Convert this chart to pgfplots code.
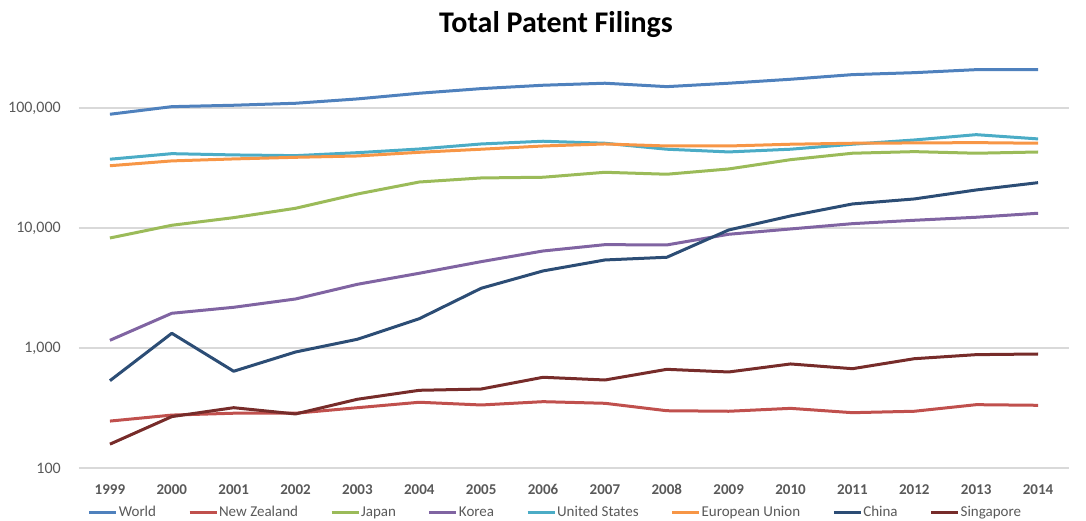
\documentclass[border=0pt]{standalone}
\usepackage{pgfplots}
\pgfplotsset{compat=1.18}
\usepackage{fontspec}
\setmainfont{Carlito}
\definecolor{cWorld}{HTML}{4F81BD}
\definecolor{cNZ}{HTML}{C0504D}
\definecolor{cJapan}{HTML}{9BBB59}
\definecolor{cKorea}{HTML}{8064A2}
\definecolor{cUS}{HTML}{4BACC6}
\definecolor{cEU}{HTML}{F79646}
\definecolor{cChina}{HTML}{2C4D75}
\definecolor{cSing}{HTML}{772C2A}
\definecolor{tickgray}{HTML}{595959}
\definecolor{gridgray}{HTML}{D9D9D9}
\begin{document}
\begin{tikzpicture}[x=1pt,y=1pt]
\useasboundingbox (-79,-53) rectangle (1007,468);
\begin{axis}[
  at={(0,0)}, anchor=south west,
  scale only axis, width=990pt, height=418pt,
  ymode=log, log basis y=10,
  xmin=1998.5, xmax=2014.5, ymin=100, ymax=304000,
  axis line style={draw=none},
  tick style={draw=none},
  ymajorgrids, yminorgrids=false,
  grid style={color=gridgray, line width=1.2pt},
  minor y tick num=0,
  ytick={100,1000,10000,100000},
  yticklabels={100,{1,000},{10,000},{100,000}},
  xtick={1999,2000,2001,2002,2003,2004,2005,2006,2007,2008,2009,2010,2011,2012,2013,2014},
  xticklabels={1999,2000,2001,2002,2003,2004,2005,2006,2007,2008,2009,2010,2011,2012,2013,2014},
  /pgf/number format/assume math mode=true,
  yticklabel style={font=\fontsize{16}{18}\selectfont, text=tickgray, inner sep=0pt, anchor=east, xshift=-18pt},
  xticklabel style={font=\bfseries\fontsize{15}{18}\selectfont, text=tickgray, inner sep=0pt, anchor=north, yshift=-16pt},
  every axis plot/.append style={line width=3pt, line join=round},
  legend columns=8,
  legend style={at={(axis description cs:0.4808,-0.1053)}, anchor=center, draw=none, fill=none,
    font=\fontsize{15}{18}\selectfont, text=tickgray,
    nodes={inner sep=1pt},
    /tikz/every even column/.append style={column sep=31pt}},
  legend image code/.code={\draw[#1, line width=3pt] (0pt,0pt) -- (27pt,0pt);},
]
\addplot[cWorld] coordinates {(1999,88600) (2000,102500) (2001,105300) (2002,109400) (2003,118900) (2004,132600) (2005,144900) (2006,154600) (2007,160700) (2008,150500) (2009,160700) (2010,173400) (2011,189500) (2012,196800) (2013,208500) (2014,208500)};
\addlegendentry{World}
\addplot[cNZ] coordinates {(1999,246) (2000,276) (2001,286) (2002,286) (2003,318) (2004,353) (2005,335) (2006,357) (2007,346) (2008,300) (2009,297) (2010,314) (2011,289) (2012,297) (2013,337) (2014,333)};
\addlegendentry{New Zealand}
\addplot[cJapan] coordinates {(1999,8250) (2000,10530) (2001,12190) (2002,14590) (2003,19190) (2004,24150) (2005,26100) (2006,26460) (2007,29100) (2008,28030) (2009,31020) (2010,37070) (2011,41940) (2012,43250) (2013,41940) (2014,42950)};
\addlegendentry{Japan}
\addplot[cKorea] coordinates {(1999,1159) (2000,1946) (2001,2183) (2002,2560) (2003,3393) (2004,4194) (2005,5240) (2006,6430) (2007,7260) (2008,7220) (2009,8860) (2010,9810) (2011,10860) (2012,11590) (2013,12280) (2014,13260)};
\addlegendentry{Korea}
\addplot[cUS] coordinates {(1999,37400) (2000,41600) (2001,40600) (2002,40050) (2003,42400) (2004,45500) (2005,50100) (2006,52800) (2007,50800) (2008,45300) (2009,43000) (2010,45300) (2011,49850) (2012,54100) (2013,59900) (2014,55200)};
\addlegendentry{United States}
\addplot[cEU] coordinates {(1999,33000) (2000,36200) (2001,37600) (2002,38800) (2003,39800) (2004,42700) (2005,45300) (2006,48200) (2007,50100) (2008,48200) (2009,48200) (2010,49850) (2011,50800) (2012,51100) (2013,51400) (2014,50800)};
\addlegendentry{European Union}
\addplot[cChina] coordinates {(1999,534) (2000,1326) (2001,640) (2002,926) (2003,1182) (2004,1754) (2005,3145) (2006,4385) (2007,5412) (2008,5700) (2009,9620) (2010,12590) (2011,15850) (2012,17450) (2013,20730) (2014,23850)};
\addlegendentry{China}
\addplot[cSing] coordinates {(1999,158) (2000,268) (2001,318) (2002,282) (2003,374) (2004,444) (2005,455) (2006,570) (2007,541) (2008,664) (2009,631) (2010,736) (2011,672) (2012,814) (2013,880) (2014,891)};
\addlegendentry{Singapore}
\end{axis}
\node[anchor=base, font=\bfseries\fontsize{30}{36}\selectfont] at (477,435) {Total Patent Filings};
\end{tikzpicture}
\end{document}
